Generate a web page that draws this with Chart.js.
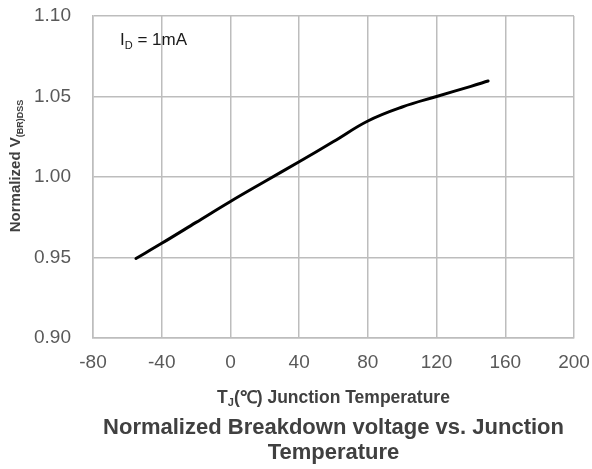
<!DOCTYPE html>
<html>
<head>
<meta charset="utf-8">
<script src="https://cdn.jsdelivr.net/npm/chart.js@4"></script>
<style>
html,body{margin:0;padding:0;background:#fff;}
#wrap{width:592px;height:469px;}
</style>
</head>
<body>
<div id="wrap"><canvas id="c" width="592" height="469"></canvas></div>
<script>
const temperatures = [-55, -40, -20, 0, 20, 40, 60, 80, 100, 120, 140, 150];
const normalizedBV = [0.9494, 0.9588, 0.9718, 0.9848, 0.9972, 1.0095, 1.022, 1.0348, 1.0435, 1.050, 1.0563, 1.0596];
const xTicks = [-80, -40, 0, 40, 80, 120, 160, 200];
const yTicks = [0.90, 0.95, 1.00, 1.05, 1.10];
const titleLines = ["Normalized Breakdown voltage vs. Junction", "Temperature"];
const annotationText = { main: "I", sub: "D", rest: " = 1mA" };
const yTitle = { main: "Normalized V", sub: "(BR)DSS" };
const xTitle = { main: "T", sub: "J", rest: "(\u2103) Junction Temperature" };

const FONT = '"Liberation Sans", Arial, sans-serif';
const GRID = '#bdbdbd';

function noScalePadding(scale) {
  scale.paddingTop = 0;
  scale.paddingBottom = 0;
  scale.paddingLeft = 0;
  scale.paddingRight = 0;
}

const textPlugin = {
  id: 'customText',
  afterDraw(chart) {
    const ctx = chart.ctx;
    const area = chart.chartArea;
    ctx.save();
    // annotation
    ctx.fillStyle = '#1a1a1a';
    ctx.textBaseline = 'alphabetic';
    ctx.textAlign = 'left';
    let x = 120, base = 45;
    ctx.font = '17px ' + FONT;
    ctx.fillText(annotationText.main, x, base);
    x += ctx.measureText(annotationText.main).width;
    ctx.font = '11px ' + FONT;
    ctx.fillText(annotationText.sub, x, base + 4);
    x += ctx.measureText(annotationText.sub).width;
    ctx.font = '17px ' + FONT;
    ctx.fillText(annotationText.rest, x, base);

    // x title
    ctx.fillStyle = '#404040';
    ctx.font = 'bold 17.5px ' + FONT;
    const w1 = ctx.measureText(xTitle.main).width;
    const w3 = ctx.measureText(xTitle.rest).width;
    ctx.font = 'bold 11px ' + FONT;
    const w2 = ctx.measureText(xTitle.sub).width;
    const tw = w1 + w2 + w3;
    let xx = (area.left + area.right) / 2 - tw / 2;
    const xb = 403;
    ctx.font = 'bold 17.5px ' + FONT;
    ctx.fillText(xTitle.main, xx, xb);
    xx += w1;
    ctx.font = 'bold 11px ' + FONT;
    ctx.fillText(xTitle.sub, xx, xb + 3);
    xx += w2;
    ctx.font = 'bold 17.5px ' + FONT;
    ctx.fillText(xTitle.rest, xx, xb);

    // y title (rotated)
    ctx.translate(20, 166);
    ctx.rotate(-Math.PI / 2);
    ctx.font = 'bold 15px ' + FONT;
    const y1 = ctx.measureText(yTitle.main).width;
    ctx.font = 'bold 9px ' + FONT;
    const y2 = ctx.measureText(yTitle.sub).width;
    let yy = -(y1 + y2) / 2;
    ctx.font = 'bold 15px ' + FONT;
    ctx.fillText(yTitle.main, yy, 0);
    yy += y1;
    ctx.font = 'bold 9px ' + FONT;
    ctx.fillText(yTitle.sub, yy, 3);
    ctx.restore();
  }
};

new Chart(document.getElementById('c'), {
  type: 'line',
  data: {
    datasets: [{
      data: temperatures.map((t, i) => ({ x: t, y: normalizedBV[i] })),
      borderColor: '#000',
      borderWidth: 3,
      pointRadius: 0,
      pointHoverRadius: 0,
      tension: 0.4,
      borderCapStyle: 'round',
      borderJoinStyle: 'round',
      fill: false
    }]
  },
  options: {
    responsive: false,
    animation: false,
    devicePixelRatio: 1,
    layout: { autoPadding: false, padding: { left: 0, right: 18, top: 16, bottom: 0 } },
    plugins: {
      legend: { display: false },
      tooltip: { enabled: false },
      title: {
        display: true,
        position: 'bottom',
        fullSize: false,
        text: titleLines,
        color: '#404040',
        font: { family: FONT, size: 22, weight: 'bold', lineHeight: 25 / 22 },
        padding: { top: 5, bottom: 3.5 }
      }
    },
    scales: {
      x: {
        type: 'linear',
        min: xTicks[0],
        max: xTicks[xTicks.length - 1],
        afterBuildTicks(scale) { scale.ticks = xTicks.map(v => ({ value: v })); },
        afterFit(scale) { scale.height = 72.5; noScalePadding(scale); },
        ticks: {
          color: '#595959',
          font: { family: FONT, size: 19 },
          padding: 13,
          maxRotation: 0,
          callback: v => String(v)
        },
        grid: { color: GRID, lineWidth: 1.5, drawTicks: false },
        border: { color: GRID, width: 1.5 }
      },
      y: {
        type: 'linear',
        min: yTicks[0],
        max: yTicks[yTicks.length - 1],
        afterBuildTicks(scale) { scale.ticks = yTicks.map(v => ({ value: v })); },
        afterFit(scale) { scale.width = 93; noScalePadding(scale); },
        ticks: {
          color: '#595959',
          font: { family: FONT, size: 19 },
          padding: 22,
          callback: v => Number(v).toFixed(2)
        },
        grid: { color: GRID, lineWidth: 1.5, drawTicks: false },
        border: { color: GRID, width: 1.5 }
      }
    }
  },
  plugins: [textPlugin]
});
</script>
</body>
</html>
